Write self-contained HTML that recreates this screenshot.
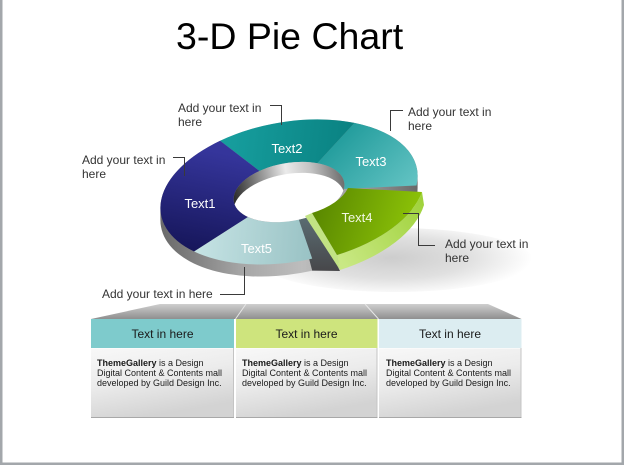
<!DOCTYPE html>
<html><head><meta charset="utf-8"><style>
html,body{margin:0;padding:0;background:#fff;}
svg{display:block;}
text{font-family:"Liberation Sans",Arial,sans-serif;}
</style></head><body>
<svg width="624" height="465" viewBox="0 0 624 465" xmlns="http://www.w3.org/2000/svg">
<defs>
  <radialGradient id="shadow" cx="392" cy="258" r="140" gradientUnits="userSpaceOnUse" gradientTransform="translate(392 258) scale(1 0.27) translate(-392 -258)">
    <stop offset="0" stop-color="#cdcdcd"/>
    <stop offset="0.55" stop-color="#e0e0e0"/>
    <stop offset="1" stop-color="#ffffff"/>
  </radialGradient>
  <linearGradient id="side" x1="160" y1="0" x2="420" y2="0" gradientUnits="userSpaceOnUse">
    <stop offset="0" stop-color="#6c6c6c"/>
    <stop offset="0.27" stop-color="#a6a6a6"/>
    <stop offset="0.5" stop-color="#bdbdbd"/>
    <stop offset="0.78" stop-color="#9a9a9a"/>
    <stop offset="1" stop-color="#666"/>
  </linearGradient>
  <linearGradient id="g1" x1="205" y1="150" x2="185" y2="250" gradientUnits="userSpaceOnUse">
    <stop offset="0" stop-color="#35359b"/>
    <stop offset="1" stop-color="#16165a"/>
  </linearGradient>
  <linearGradient id="g2" x1="230" y1="135" x2="350" y2="150" gradientUnits="userSpaceOnUse">
    <stop offset="0" stop-color="#169d9d"/>
    <stop offset="1" stop-color="#0a8282"/>
  </linearGradient>
  <linearGradient id="g3" x1="340" y1="120" x2="410" y2="190" gradientUnits="userSpaceOnUse">
    <stop offset="0" stop-color="#1b9898"/>
    <stop offset="1" stop-color="#63c3c3"/>
  </linearGradient>
  <linearGradient id="g5" x1="200" y1="240" x2="310" y2="250" gradientUnits="userSpaceOnUse">
    <stop offset="0" stop-color="#c4e2e3"/>
    <stop offset="1" stop-color="#9ac3c5"/>
  </linearGradient>
  <linearGradient id="g4" x1="315" y1="200" x2="420" y2="235" gradientUnits="userSpaceOnUse">
    <stop offset="0" stop-color="#588600"/>
    <stop offset="1" stop-color="#91c808"/>
  </linearGradient>
  <linearGradient id="g4s" x1="340" y1="260" x2="424" y2="200" gradientUnits="userSpaceOnUse">
    <stop offset="0" stop-color="#c9e884"/>
    <stop offset="1" stop-color="#9fd23a"/>
  </linearGradient>
  <linearGradient id="cut" x1="0" y1="215" x2="0" y2="271" gradientUnits="userSpaceOnUse">
    <stop offset="0" stop-color="#5b6e74"/>
    <stop offset="1" stop-color="#47474a"/>
  </linearGradient>
  <linearGradient id="wall" x1="234" y1="0" x2="345" y2="0" gradientUnits="userSpaceOnUse">
    <stop offset="0" stop-color="#2c2c2c"/>
    <stop offset="0.18" stop-color="#707070"/>
    <stop offset="0.5" stop-color="#ebebeb"/>
    <stop offset="0.72" stop-color="#c4c4c4"/>
    <stop offset="1" stop-color="#6e6e6e"/>
  </linearGradient>
  <clipPath id="holeClip">
    <ellipse cx="289" cy="192" rx="56" ry="29" transform="rotate(-10 289 192)"/>
  </clipPath>
  <linearGradient id="trap" x1="0" y1="304" x2="0" y2="319" gradientUnits="userSpaceOnUse">
    <stop offset="0" stop-color="#cfcfcf"/>
    <stop offset="1" stop-color="#8f8f8f"/>
  </linearGradient>
  <linearGradient id="body" x1="0" y1="0" x2="0.35" y2="1">
    <stop offset="0" stop-color="#f8f8f8"/>
    <stop offset="0.5" stop-color="#ececec"/>
    <stop offset="1" stop-color="#d3d3d3"/>
  </linearGradient>
</defs>

<rect x="0" y="0" width="624" height="465" fill="#fff"/>
<rect x="0" y="0" width="2.5" height="465" fill="#a3a7ab"/>
<rect x="621.5" y="0" width="2.5" height="465" fill="#a3a7ab"/>
<rect x="0" y="462.5" width="624" height="2.5" fill="#a3a7ab"/>

<text x="176" y="49" font-size="37.5" fill="#000">3-D Pie Chart</text>

<ellipse cx="395" cy="260" rx="138" ry="32" fill="url(#shadow)"/>

<g fill="url(#side)">
  <ellipse cx="289" cy="204" rx="130" ry="70" transform="rotate(-10 289 204)"/>
  <ellipse cx="289" cy="202" rx="130" ry="70" transform="rotate(-10 289 202)"/>
  <ellipse cx="289" cy="200" rx="130" ry="70" transform="rotate(-10 289 200)"/>
  <ellipse cx="289" cy="198" rx="130" ry="70" transform="rotate(-10 289 198)"/>
  <ellipse cx="289" cy="196" rx="130" ry="70" transform="rotate(-10 289 196)"/>
  <ellipse cx="289" cy="194" rx="130" ry="70" transform="rotate(-10 289 194)"/>
  <ellipse cx="289" cy="192" rx="130" ry="70" transform="rotate(-10 289 192)"/>
</g>

<polygon points="298.8,219.6 312,213 340,271 312.2,270.6" fill="url(#cut)"/>

<path d="M354.4 122.9 A130 70 -10 0 1 416.5 185.5 L343.9 188.9 A56 29 -10 0 0 317.3 163.2 Z" fill="url(#g3)"/>
<path d="M220.1 140.8 A130 70 -10 0 1 354.4 122.9 L317.3 163.2 A56 29 -10 0 0 259.5 171 Z" fill="url(#g2)"/>
<path d="M194.1 251.5 A130 70 -10 0 1 220.1 140.8 L259.5 171 A56 29 -10 0 0 248 217 Z" fill="url(#g1)"/>
<path d="M312.2 258.6 A130 70 -10 0 1 194.1 251.5 L248 217 A56 29 -10 0 0 298.8 219.6 Z" fill="url(#g5)"/>

<ellipse cx="289" cy="192" rx="56" ry="29" transform="rotate(-10 289 192)" fill="url(#wall)"/>
<g clip-path="url(#holeClip)">
  <ellipse cx="289" cy="203" rx="56" ry="29" transform="rotate(-10 289 203)" fill="#fff"/>
</g>

<path d="M422 192 A130 70 -10 0 1 337 255 L340 270 A130 70 -10 0 0 424 205 Z" fill="url(#g4s)"/>
<polygon points="312,213 337,255 340,270 305,216" fill="#c2e384"/>
<path d="M348 188 L422 192 A130 70 -10 0 1 337 255 L312 213 A56 29 -10 0 0 348 188 Z" fill="url(#g4)"/>

<g font-size="13" text-anchor="middle" fill="#fff">
  <text x="200" y="208">Text1</text>
  <text x="287" y="153">Text2</text>
  <text x="371" y="166">Text3</text>
  <text x="357" y="222" fill="#f2f8e4">Text4</text>
  <text x="256.5" y="253">Text5</text>
</g>

<g stroke="#3a3a3a" stroke-width="1" fill="none">
  <polyline points="270,105.5 281.5,105.5 281.5,125"/>
  <polyline points="173,157.5 184.5,157.5 184.5,176"/>
  <polyline points="403,110.5 390.5,110.5 390.5,131"/>
  <polyline points="403,213.5 418.5,213.5 418.5,245.5 435,245.5"/>
  <polyline points="220,294.5 244.5,294.5 244.5,267"/>
</g>

<g font-size="12" fill="#333">
  <text x="178" y="112">Add your text in</text>
  <text x="178" y="126">here</text>
  <text x="82" y="164">Add your text in</text>
  <text x="82" y="178">here</text>
  <text x="408" y="116">Add your text in</text>
  <text x="408" y="130">here</text>
  <text x="445" y="248">Add your text in</text>
  <text x="445" y="262">here</text>
  <text x="102" y="298">Add your text in here</text>
</g>

<polygon points="160,304 488,304 521.5,319 91,319" fill="url(#trap)"/>
<line x1="246" y1="304" x2="235.5" y2="319" stroke="#e6e6e6" stroke-width="1"/>
<line x1="365" y1="304" x2="378.5" y2="319" stroke="#e6e6e6" stroke-width="1"/>

<rect x="91" y="319" width="143" height="29" fill="#7ecbcc"/>
<rect x="236" y="319" width="141.5" height="29" fill="#cee47d"/>
<rect x="379" y="319" width="142.5" height="29" fill="#dcedf1"/>

<rect x="91" y="348.5" width="143" height="69" fill="url(#body)"/>
<rect x="236" y="348.5" width="141.5" height="69" fill="url(#body)"/>
<rect x="379" y="348.5" width="142.5" height="69" fill="url(#body)"/>
<g stroke="#a8a8a8" stroke-width="1">
  <line x1="91" y1="417.5" x2="234" y2="417.5"/>
  <line x1="236" y1="417.5" x2="377.5" y2="417.5"/>
  <line x1="379" y1="417.5" x2="521.5" y2="417.5"/>
</g>
<g stroke="#c4c4c4" stroke-width="1">
  <line x1="233.5" y1="348" x2="233.5" y2="417"/>
  <line x1="377" y1="348" x2="377" y2="417"/>
  <line x1="521" y1="348" x2="521" y2="417"/>
</g>

<g font-size="12" fill="#1a1a1a" text-anchor="middle">
  <text x="162.5" y="338">Text in here</text>
  <text x="306.5" y="338">Text in here</text>
  <text x="450" y="338">Text in here</text>
</g>

<g font-size="9" fill="#1a1a1a">
  <text x="97" y="366"><tspan font-weight="bold">ThemeGallery</tspan> is a Design</text>
  <text x="97" y="376">Digital Content &amp; Contents mall</text>
  <text x="97" y="386">developed by Guild Design Inc.</text>
  <text x="242" y="366"><tspan font-weight="bold">ThemeGallery</tspan> is a Design</text>
  <text x="242" y="376">Digital Content &amp; Contents mall</text>
  <text x="242" y="386">developed by Guild Design Inc.</text>
  <text x="386" y="366"><tspan font-weight="bold">ThemeGallery</tspan> is a Design</text>
  <text x="386" y="376">Digital Content &amp; Contents mall</text>
  <text x="386" y="386">developed by Guild Design Inc.</text>
</g>
</svg>
</body></html>
